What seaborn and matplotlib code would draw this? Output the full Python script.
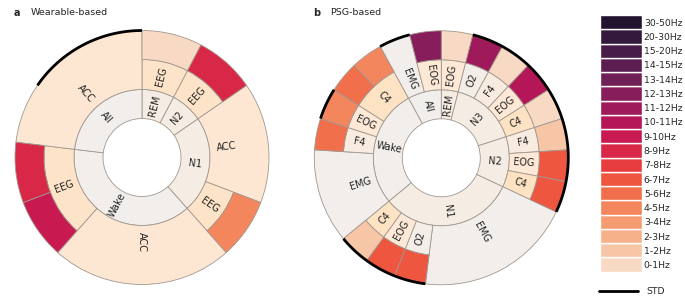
import numpy as np
import pandas as pd
import matplotlib
matplotlib.use("Agg")
import matplotlib.pyplot as plt
from matplotlib.lines import Line2D
import seaborn as sns

sns.set_theme(style="white")
plt.rcParams['font.family'] = ['DejaVu Sans']

# ---------------- data ----------------
bands = ["0-1Hz", "1-2Hz", "2-3Hz", "3-4Hz", "4-5Hz", "5-6Hz", "6-7Hz", "7-8Hz",
         "8-9Hz", "9-10Hz", "10-11Hz", "11-12Hz", "12-13Hz", "13-14Hz", "14-15Hz",
         "15-20Hz", "20-30Hz", "30-50Hz"]

# Wearable-based: one entry per unit sector, clockwise from 12 o'clock
a_stage = ["REM", "N2", "N1", "N1", "N1", "Wake", "Wake", "Wake", "Wake", "Wake",
           "All", "All", "All"]
a_modality = ["EEG", "EEG", "ACC", "ACC", "EEG", "ACC", "ACC", "ACC", "EEG", "EEG",
              "ACC", "ACC", "ACC"]
a_band = ["0-1Hz", "8-9Hz", None, None, "4-5Hz", None, None, None, "9-10Hz", "8-9Hz",
          None, None, None]
a_std = [0, 0, 0, 0, 0, 0, 0, 0, 0, 0, 0, 1, 1]

# PSG-based
b_stage = ["REM",
           "N3", "N3", "N3", "N3",
           "N2", "N2", "N2",
           "N1", "N1", "N1", "N1", "N1", "N1", "N1", "N1",
           "Wake", "Wake", "Wake", "Wake", "Wake", "Wake", "Wake",
           "All", "All"]
b_modality = ["EOG",
              "O2", "F4", "EOG", "C4",
              "F4", "EOG", "C4",
              "EMG", "EMG", "EMG", "EMG", "EMG", "O2", "EOG", "C4",
              "EMG", "EMG", "EMG", "F4", "EOG", "C4", "C4",
              "EMG", "EOG"]
b_band = ["0-1Hz",
          "11-12Hz", "0-1Hz", "10-11Hz", "0-1Hz",
          "1-2Hz", "6-7Hz", "6-7Hz",
          None, None, None, None, None, "6-7Hz", "6-7Hz", "1-2Hz",
          None, None, None, "5-6Hz", "4-5Hz", "5-6Hz", "4-5Hz",
          None, "12-13Hz"]
b_std = [0,
         1, 1, 1, 1,
         1, 1, 1,
         0, 0, 0, 0, 0, 1, 1, 1,
         0, 0, 0, 0, 1, 0, 0,
         1, 0]

# ---------------- styles ----------------
rocket = sns.color_palette("rocket", as_cmap=True)
band_colors = [rocket(p) for p in np.linspace(0.95, 0.09, len(bands))]
band_color = dict(zip(bands, band_colors))

stage_colors = {"All": "#f1eeeb", "Wake": "#f1eeeb", "N1": "#f5ece3",
                "N2": "#f5ece3", "N3": "#f5ece3", "REM": "#f5ece3"}
mod_colors = {"ACC": "#fde7d2", "EEG": "#fde4c9", "EOG": "#fde9d6", "C4": "#fde2c3",
              "F4": "#f8ebe0", "O2": "#f4eee9", "EMG": "#f1eeeb"}
EC = "#a1978f"
LW = 0.6
R0, R1, R2, R3 = 39, 68, 98, 127
FS = 7


def rot_for(alpha):
    th = 90 - alpha
    th = (th + 180) % 360 - 180
    if th > 90:
        th -= 180
    elif th < -90:
        th += 180
    return th


def runs(keys):
    out = []
    start = 0
    for i in range(1, len(keys) + 1):
        if i == len(keys) or keys[i] != keys[start]:
            out.append((start, i - start))
            start = i
    return out


def sunburst(ax, stage, modality, band, std):
    df = pd.DataFrame(dict(stage=stage, modality=modality, band=band, std=std))
    n = len(df)
    unit = 2 * np.pi / n
    ax.set_theta_zero_location("N")
    ax.set_theta_direction(-1)
    ax.set_ylim(0, 130)
    ax.axis("off")

    def label(s, a0, cnt, r):
        th = (a0 + cnt / 2) * unit
        ax.text(th, r, s, rotation=rot_for(np.degrees(th)), rotation_mode="anchor",
                ha="center", va="center", fontsize=FS, color="#222222")

    # inner ring: stages
    for s, c in runs(list(df.stage)):
        name = df.stage[s]
        ax.bar((s + c / 2) * unit, R1 - R0, width=c * unit, bottom=R0,
               color=stage_colors[name], edgecolor=EC, linewidth=LW)
        label(name, s, c, (R0 + R1) / 2)

    # middle ring: modalities
    keys = list(zip(df.stage, df.modality))
    for s, c in runs(keys):
        name = df.modality[s]
        has_band = df.band[s:s + c].notna().any()
        top = R2 if has_band else R3
        ax.bar((s + c / 2) * unit, top - R1, width=c * unit, bottom=R1,
               color=mod_colors[name], edgecolor=EC, linewidth=LW)
        label(name, s, c, (R1 + R2) / 2 if has_band else 85)

    # outer ring: frequency bands
    for i, b in enumerate(df.band):
        if b is None:
            continue
        ax.bar((i + 0.5) * unit, R3 - R2, width=unit, bottom=R2,
               color=band_color[b], edgecolor=EC, linewidth=LW)

    # STD arcs
    for s, c in runs(list(df["std"])):
        if df["std"][s] == 1:
            th = np.linspace(s * unit, (s + c) * unit, 60)
            ax.plot(th, np.full_like(th, R3), color="black", lw=2,
                    solid_capstyle="butt", zorder=5)


W, H = 685, 300
fig = plt.figure(figsize=(W / 100, H / 100), dpi=100)

def polar_axes(cx, cy, rad=130):
    return fig.add_axes([(cx - rad) / W, (H - cy - rad) / H, 2 * rad / W, 2 * rad / H],
                        projection="polar")

ax_a = polar_axes(142, 157.5)
sunburst(ax_a, a_stage, a_modality, a_band, a_std)
ax_b = polar_axes(441.3, 157.8)
sunburst(ax_b, b_stage, b_modality, b_band, b_std)

fig.text(14 / W, 1 - 12.5 / H, "a", fontsize=7, fontweight="bold", va="center")
fig.text(31 / W, 1 - 12.5 / H, "Wearable-based", fontsize=6.8, va="center")
fig.text(313 / W, 1 - 12.5 / H, "b", fontsize=7, fontweight="bold", va="center")
fig.text(330 / W, 1 - 12.5 / H, "PSG-based", fontsize=6.8, va="center")

# colour legend
ax_l = fig.add_axes([600 / W, (H - 271.7) / H, 41.7 / W, 256.7 / H])
ax_l.barh(np.arange(len(bands)), 1, height=1, color=band_colors, left=0)
ax_l.set_ylim(-0.5, len(bands) - 0.5)
ax_l.set_xlim(0, 1)
ax_l.set_yticks(np.arange(len(bands)))
ax_l.set_yticklabels(bands, fontsize=6.7)
ax_l.yaxis.tick_right()
ax_l.tick_params(axis="y", length=0, pad=1.5)
ax_l.set_xticks([])
for sp in ax_l.spines.values():
    sp.set_visible(False)

fig.legend(handles=[Line2D([], [], color="black", lw=2)], labels=["STD"],
           loc="center left", bbox_to_anchor=(599 / W, 8.3 / H), frameon=False,
           fontsize=6.7, handlelength=4.2, handletextpad=0.9, borderpad=0,
           borderaxespad=0)

fig.savefig("out.png", dpi=100)
